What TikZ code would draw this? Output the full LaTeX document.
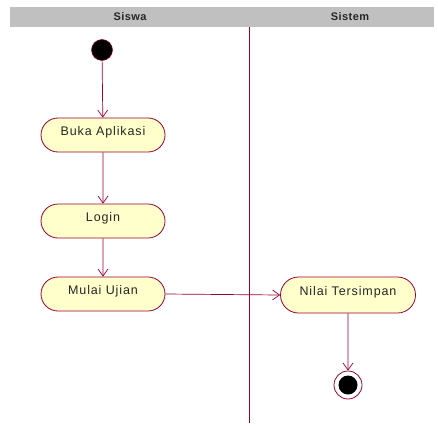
\documentclass[tikz,border=0pt]{standalone}
\usepackage{fontspec}
\setmainfont{Liberation Sans}
\usetikzlibrary{arrows.meta,shapes.misc}
\definecolor{umlred}{HTML}{990033}
\definecolor{umlfill}{HTML}{FFFFCC}
\definecolor{hdrgrey}{HTML}{C0C0C0}
\begin{document}
\begin{tikzpicture}[x=1pt,y=-1pt,
  act/.style={rounded rectangle, draw=umlred, fill=umlfill, line width=0.8pt,
    minimum width=124pt, minimum height=34pt, inner sep=0pt,
    text height=9pt, text depth=9pt,
    font=\fontsize{12.5}{14}\selectfont\addfontfeature{LetterSpace=7}, text=black!85},
  flow/.style={draw=umlred, line width=0.7pt, -{Straight Barb[length=7pt,width=10pt]}},
  hdr/.style={font=\fontsize{11}{13}\selectfont\bfseries\addfontfeature{LetterSpace=4}, text=black!85}]
\useasboundingbox (0,0) rectangle (438,425);
\fill[hdrgrey] (10,7) rectangle (434,27);
\node[hdr] (h1) at (130,17) {Siswa};
\node[hdr] (h2) at (350,17) {Sistem};
\draw[umlred, line width=0.8pt] (249,27) -- (249,423);
\node[circle, fill=black, draw=umlred, line width=0.5pt, minimum size=21pt, inner sep=0pt] (start) at (102,50) {};
\node[act] (a1) at (103,135) {Buka Aplikasi};
\node[act] (a2) at (103,221) {Login};
\node[act] (a3) at (103,294) {Mulai Ujian};
\node[act, minimum width=135pt, minimum height=36pt] (a4) at (348,295) {Nilai Tersimpan};
\node[circle, draw=umlred, fill=white, line width=0.8pt, minimum size=28pt, inner sep=0pt] (end) at (348,385) {};
\node[circle, fill=black, minimum size=19pt, inner sep=0pt] (endin) at (end.center) {};
\draw[flow] (start) -- (a1);
\draw[flow] (a1) -- (a2);
\draw[flow] (a2) -- (a3);
\draw[flow] (a3.east) -- (a4.west);
\draw[flow] (a4) -- (end);
\end{tikzpicture}
\end{document}
